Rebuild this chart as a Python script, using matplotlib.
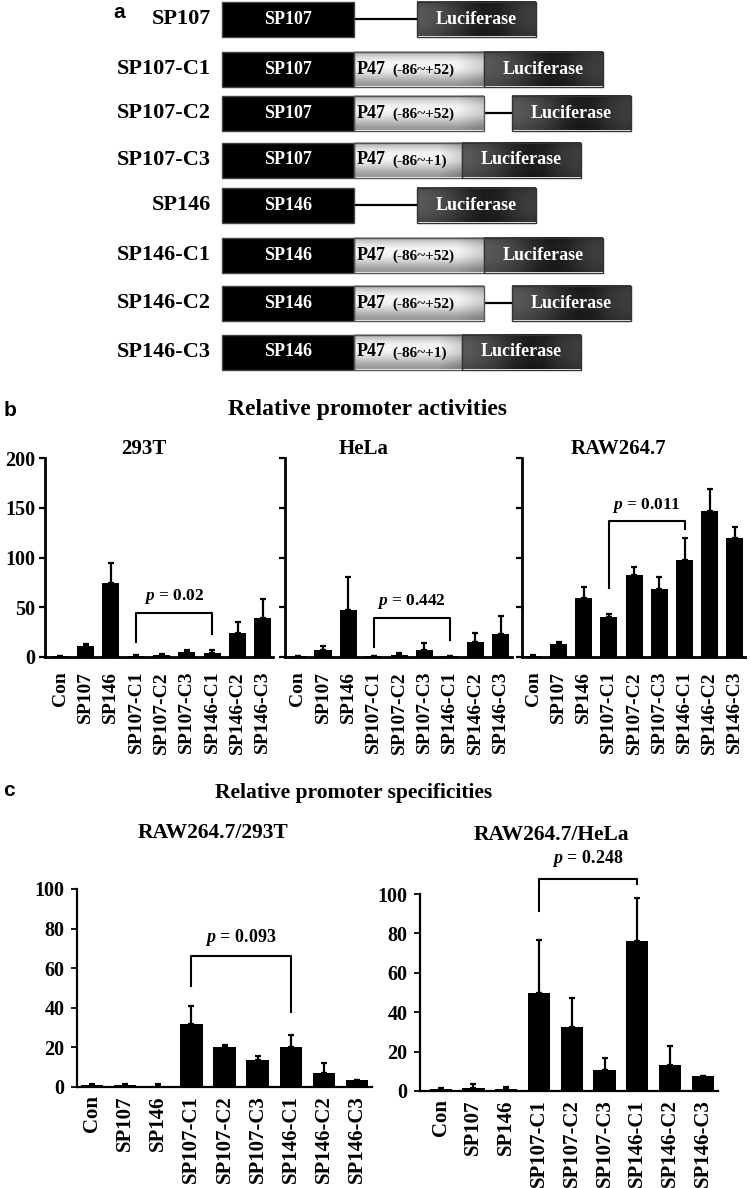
import numpy as np
import matplotlib
matplotlib.use("Agg")
import matplotlib.pyplot as plt
from matplotlib.patches import Rectangle

plt.rcParams['font.family'] = ['Liberation Serif', 'DejaVu Serif']
plt.rcParams['font.weight'] = 'bold'
plt.rcParams['mathtext.fontset'] = 'custom'
plt.rcParams['mathtext.it'] = 'Liberation Serif:italic:bold'
plt.rcParams['mathtext.rm'] = 'Liberation Serif:bold'

W, H = 751, 1188

# ---------------- DATA ----------------
constructs = ['SP107', 'SP107-C1', 'SP107-C2', 'SP107-C3',
              'SP146', 'SP146-C1', 'SP146-C2', 'SP146-C3']
promoters = ['SP107', 'SP107', 'SP107', 'SP107',
             'SP146', 'SP146', 'SP146', 'SP146']
p47_regions = ['', '(-86~+52)', '(-86~+52)', '(-86~+1)',
               '', '(-86~+52)', '(-86~+52)', '(-86~+1)']
has_spacer = [True, False, True, False, True, False, True, False]

samples = ['Con', 'SP107', 'SP146', 'SP107-C1', 'SP107-C2', 'SP107-C3',
           'SP146-C1', 'SP146-C2', 'SP146-C3']

act_293t = [1, 11, 74, 1.5, 2.5, 5, 4.5, 24, 39]
act_293t_err = [0.5, 2, 20, 0.5, 1, 2, 2.5, 11.5, 19]
act_hela = [1, 7, 47, 1, 2, 7, 1, 15, 23]
act_hela_err = [0.5, 4, 33, 0.5, 2, 7, 0.5, 9, 18]
act_raw = [1.5, 13, 59, 40.5, 82, 68, 97.5, 146.5, 120]
act_raw_err = [0.5, 2, 11.5, 2.5, 8.5, 12.5, 22.5, 22, 10.5]

spec_293t = [1, 1, 0.3, 32, 20, 13.5, 20.2, 7, 3.5]
spec_293t_err = [0.3, 0.3, 1, 8.7, 1.4, 2, 6, 5, 0]
spec_hela = [1, 1.7, 1.2, 50, 32.3, 10.6, 76, 13.4, 7.5]
spec_hela_err = [0.3, 2, 0.8, 26.4, 14.7, 6.3, 22, 9.4, 0]

p_act = ['0.02', '0.442', '0.011']
p_spec = ['0.093', '0.248']

# ---------------- FIGURE ----------------
fig = plt.figure(figsize=(W / 100, H / 100), dpi=100)

# overlay axes in pixel coords for panel a and free text
ov = fig.add_axes([0, 0, 1, 1])
ov.set_xlim(0, W)
ov.set_ylim(H, 0)
ov.set_axis_off()


def gradient_box(x0, x1, yc, h, arr, edge='#333333'):
    ov.imshow(arr, cmap='gray', vmin=0, vmax=1, aspect='auto',
              interpolation='bilinear', extent=(x0, x1, yc + h / 2, yc - h / 2),
              zorder=2)
    ov.add_patch(Rectangle((x0, yc - h / 2), x1 - x0, h, fill=False,
                           edgecolor=edge, lw=1.0, zorder=3))


# P47 shading: light cylinder look, darker towards right end
vy = np.array([0.72, 0.86, 0.95, 0.96, 0.92, 0.82, 0.70, 0.60])
vx = np.concatenate([np.ones(20), np.linspace(1.0, 0.85, 6)])
p47_img = np.clip(np.outer(vy, vx), 0, 1)

# luciferase shading: dark grey, darkest right of centre
lx = np.array([0.34, 0.30, 0.24, 0.16, 0.11, 0.13, 0.20, 0.24])
ly = np.array([0.9, 1.0, 1.0, 1.0, 0.95, 0.85])
luc_img = np.outer(ly, lx)

row_y = [19, 69, 113, 160, 205, 255, 303, 352]
box_h = 35
pro_x0, pro_x1 = 222, 354
luc_w = 119

for i, name in enumerate(constructs):
    yc = row_y[i]
    ov.text(211, yc, name, ha='right', va='center', fontsize=16, zorder=4)
    ov.add_patch(Rectangle((pro_x0, yc - box_h / 2), pro_x1 - pro_x0, box_h,
                           facecolor='black', edgecolor='#444444', lw=1.0, zorder=3))
    ov.text((pro_x0 + pro_x1) / 2, yc, promoters[i], ha='center', va='center',
            color='white', fontsize=13, zorder=4)
    x = pro_x1
    if p47_regions[i]:
        w = 130 if p47_regions[i] == '(-86~+52)' else 108
        gradient_box(x, x + w, yc, box_h, p47_img, edge='#555555')
        ov.text(x + 3, yc, 'P47', ha='left', va='center', fontsize=13, zorder=4)
        ov.text(x + 38, yc + 1, p47_regions[i], ha='left', va='center',
                fontsize=11, zorder=4)
        x += w
    if has_spacer[i]:
        gap = 63 if not p47_regions[i] else 28
        ov.plot([x, x + gap], [yc, yc], color='black', lw=1.6, zorder=1)
        x += gap
    gradient_box(x, x + luc_w, yc, box_h, luc_img)
    ov.text(x + luc_w / 2, yc, 'Luciferase', ha='center', va='center',
            color='white', fontsize=13, zorder=4)

# panel letters and titles
for lab, (px, py) in {'a': (119, 12), 'b': (10, 410), 'c': (9, 790)}.items():
    ov.text(px, py, lab, ha='center', va='center', fontsize=15,
            family='Liberation Sans', fontweight='bold')

ov.text(368, 409, 'Relative promoter activities', ha='center', va='center', fontsize=17)
ov.text(144, 449, '293T', ha='center', va='center', fontsize=15)
ov.text(364, 449, 'HeLa', ha='center', va='center', fontsize=15)
ov.text(618, 449, 'RAW264.7', ha='center', va='center', fontsize=15)
ov.text(354, 793, 'Relative promoter specificities', ha='center', va='center', fontsize=15.5)
ov.text(213, 833, 'RAW264.7/293T', ha='center', va='center', fontsize=15.5)
ov.text(552, 835, 'RAW264.7/HeLa', ha='center', va='center', fontsize=15.5)


def make_ax(left, right, top, bottom):
    ax = fig.add_axes([left / W, 1 - bottom / H, (right - left) / W, (bottom - top) / H])
    ax.set_facecolor('none')
    return ax


def bar_panel(ax, vals, errs, xlim, ylim, yticks, show_y, lw, xlab_size,
              ytick_size, xpad, ypad):
    x = np.arange(len(samples))
    ax.bar(x, vals, width=0.68, color='black', zorder=2)
    ax.errorbar(x, vals, yerr=[np.zeros(len(errs)), errs], fmt='none',
                ecolor='black', elinewidth=1.6, capsize=2.5, capthick=1.6, zorder=3)
    ax.set_xlim(*xlim)
    ax.set_ylim(*ylim)
    ax.set_yticks(yticks)
    ax.set_xticks(x)
    ax.set_xticklabels(samples, rotation=90)
    ax.tick_params(axis='x', length=0, pad=xpad, labelsize=xlab_size)
    ax.tick_params(axis='y', direction='out', length=4, width=lw * 0.8,
                   labelsize=ytick_size, pad=ypad, labelleft=show_y)
    for s in ['top', 'right']:
        ax.spines[s].set_visible(False)
    for s in ['left', 'bottom']:
        ax.spines[s].set_linewidth(lw)


def bracket(ax, x1, x2, yb1, yt, yb2, ytext, p, size):
    ax.plot([x1, x1, x2, x2], [yb1, yt, yt, yb2], color='black', lw=1.5,
            clip_on=False, zorder=4)
    ax.text((x1 + x2) / 2, ytext, r'$p$ = ' + p, ha='center', va='center',
            fontsize=size, clip_on=False)


# ---------------- PANEL b ----------------
ax1 = make_ax(45, 273, 458, 657)
bar_panel(ax1, act_293t, act_293t_err, (-0.6, 8.4), (0, 200), [0, 50, 100, 150, 200],
          True, 2.0, 14, 14.5, 10, 3)
bracket(ax1, 3, 6, 15, 44.5, 23, 60.5, p_act[0], 12.5)

ax2 = make_ax(285, 512, 458, 657)
bar_panel(ax2, act_hela, act_hela_err, (-0.5, 8.45), (0, 200), [0, 50, 100, 150, 200],
          False, 2.0, 14, 14.5, 10, 3)
bracket(ax2, 3, 6, 10, 39, 17, 55.5, p_act[1], 12.5)

ax3 = make_ax(522, 745, 458, 657)
bar_panel(ax3, act_raw, act_raw_err, (-0.45, 8.4), (0, 200), [0, 50, 100, 150, 200],
          False, 2.0, 14, 14.5, 10, 3)
bracket(ax3, 3, 6, 69, 137, 129, 152, p_act[2], 12.5)

# ---------------- PANEL c ----------------
ax4 = make_ax(77, 372, 889, 1087)
bar_panel(ax4, spec_293t, spec_293t_err, (-0.45, 8.45), (0, 100), [0, 20, 40, 60, 80, 100],
          True, 1.6, 15, 14.5, 6, 5)
bracket(ax4, 3, 6, 51, 66, 38, 75.5, p_spec[0], 13)

ax5 = make_ax(420, 718, 894, 1091)
bar_panel(ax5, spec_hela, spec_hela_err, (-0.63, 8.46), (0, 100), [0, 20, 40, 60, 80, 100],
          True, 1.6, 15, 14.5, 6, 5)
bracket(ax5, 3, 6, 91.5, 107.6, 105, 118, p_spec[1], 13)

fig.savefig('out.png', dpi=100)
